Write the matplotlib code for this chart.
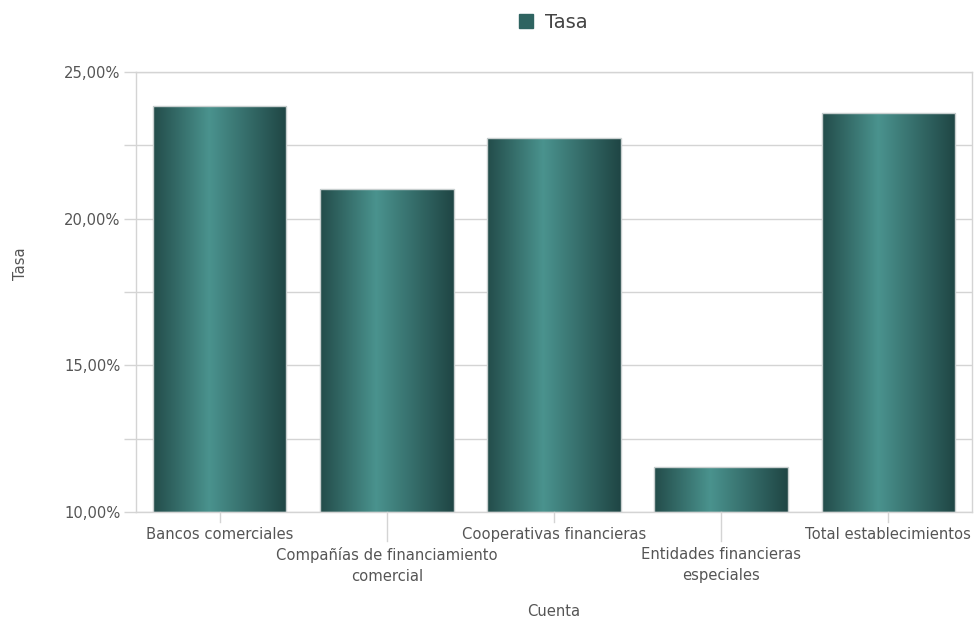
import matplotlib
matplotlib.use("Agg")
import matplotlib.pyplot as plt
import numpy as np
from matplotlib.colors import LinearSegmentedColormap
from matplotlib.patches import Patch

# Data
categories = [
    "Bancos comerciales",
    "Compañías de financiamiento\ncomercial",
    "Cooperativas financieras",
    "Entidades financieras\nespeciales",
    "Total establecimientos",
]
tasa = [23.84, 21.01, 22.75, 11.53, 23.60]
y_ticks = [10, 15, 20, 25]
y_tick_labels = ["10,00%", "15,00%", "20,00%", "25,00%"]

GRAY = "#d4d4d4"
TEXT = "#555555"
FS = 10.6

bar_cmap = LinearSegmentedColormap.from_list(
    "bar", [(0.0, "#234c4a"), (0.42, "#4a938e"), (1.0, "#1f4544")]
)

fig = plt.figure(figsize=(9.77, 6.19), dpi=100)
ax = fig.add_axes([136 / 977, 107 / 619, 836 / 977, 440 / 619])

x = np.arange(len(categories)) + 0.5
bars = ax.bar(x, [v - 10 for v in tasa], width=0.8, bottom=10,
              color="none", edgecolor="#c8cfcf", linewidth=1.0, zorder=3)

# horizontal gradient fill inside every bar
grad = np.linspace(0, 1, 256).reshape(1, -1)
for b in bars:
    x0, y0 = b.get_x(), b.get_y()
    ax.imshow(grad, cmap=bar_cmap, aspect="auto", zorder=2,
              extent=[x0, x0 + b.get_width(), y0, y0 + b.get_height()])

ax.set_xlim(0, len(categories))
ax.set_ylim(10, 25)

ax.set_yticks(y_ticks)
ax.set_yticklabels(y_tick_labels)
ax.set_yticks(np.arange(10, 25.1, 2.5), minor=True)
ax.grid(axis="y", which="both", color=GRAY, linewidth=1.0, zorder=0)
ax.set_axisbelow(True)
ax.tick_params(axis="y", which="both", length=9, color=GRAY, width=1,
               labelsize=FS, labelcolor=TEXT, pad=2)

ax.set_xticks(x)
ax.set_xticklabels(categories, fontsize=FS, color=TEXT, linespacing=1.5)
ax.tick_params(axis="x", length=0, labelcolor=TEXT, pad=11)
for i, lbl in enumerate(ax.get_xticklabels()):
    lbl.set_verticalalignment("top")
    if i % 2 == 1:
        lbl.set_y(-0.045)
# custom tick lines: short for the first row, long for the staggered row
for i, xi in enumerate(x):
    ln = 10 if i % 2 == 0 else 29
    ax.plot([xi, xi], [0, -ln / 440], transform=ax.get_xaxis_transform(),
            color=GRAY, linewidth=1, clip_on=False)

for s in ax.spines.values():
    s.set_color(GRAY)
    s.set_linewidth(1.0)

ax.set_ylabel("Tasa", fontsize=FS, color=TEXT)
ax.yaxis.set_label_coords(-108 / 836, 248 / 440)
ax.set_xlabel("Cuenta", fontsize=FS, color=TEXT)
ax.xaxis.set_label_coords(0.5, -100 / 440)
ax.xaxis.label.set_verticalalignment("center")

fig.legend(handles=[Patch(facecolor="#2f6461", edgecolor="#2f6461")],
           labels=["Tasa"], loc="center", bbox_to_anchor=(553 / 977, 1 - 22 / 619),
           frameon=False, fontsize=14, handlelength=0.75, handleheight=0.75,
           handletextpad=0.6, labelcolor="#444444")

fig.savefig("out.png", dpi=100)
